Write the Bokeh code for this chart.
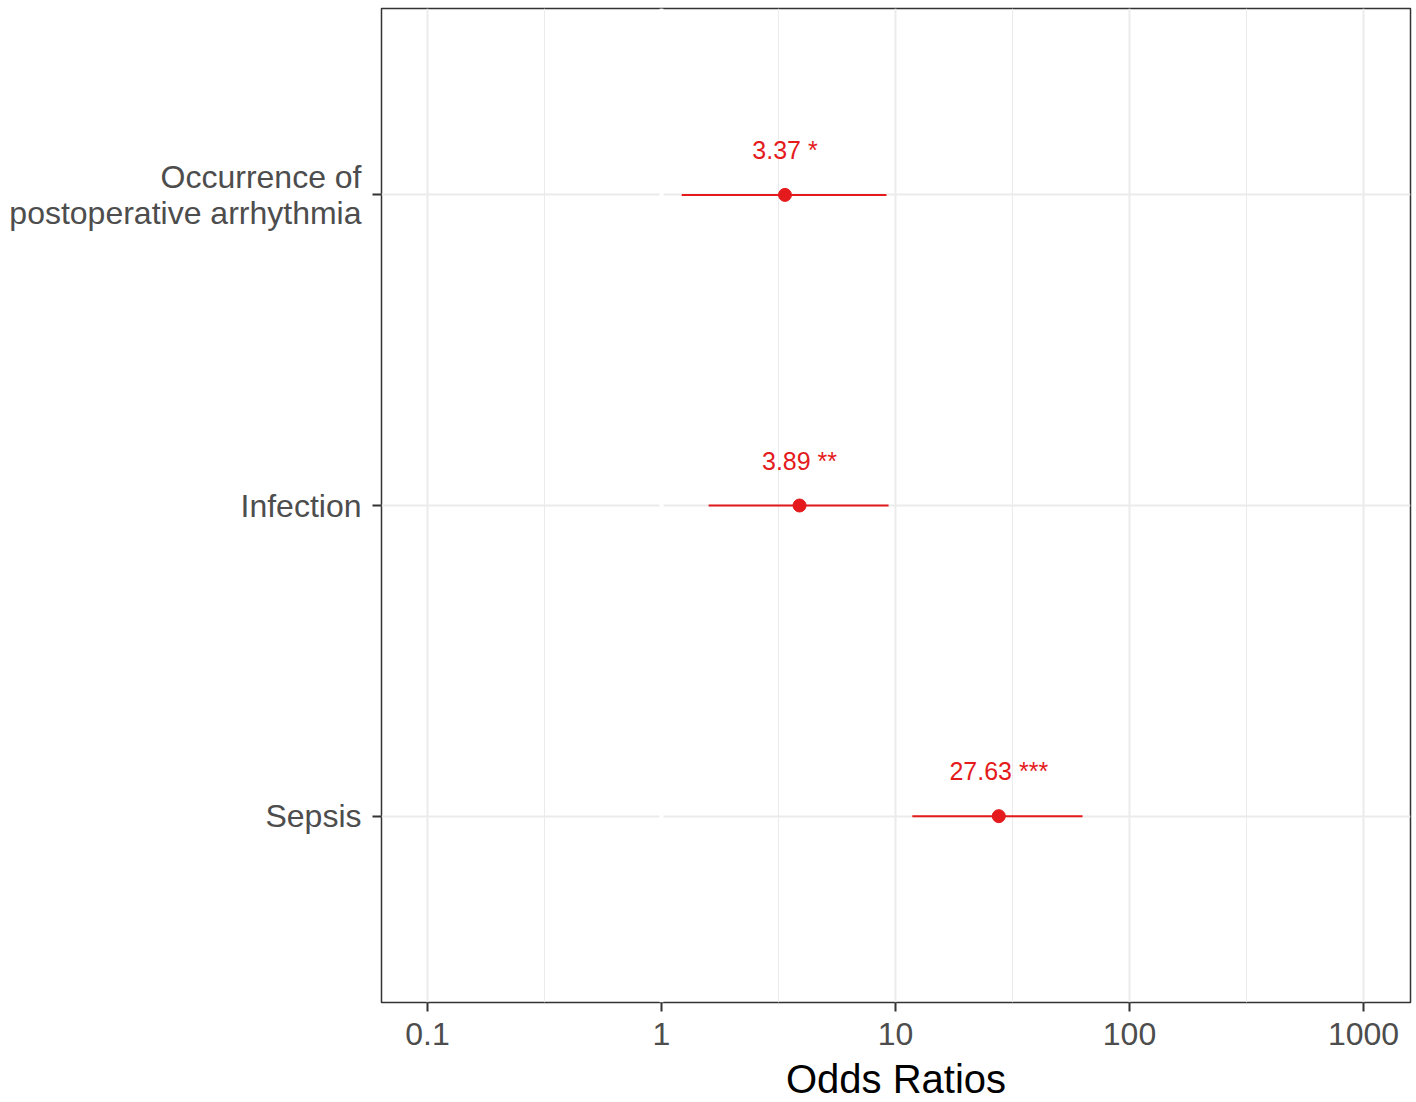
from bokeh.plotting import figure
from bokeh.models import Range1d, FactorRange, FixedTicker, Span, ColumnDataSource
from bokeh.embed import file_html
from bokeh.resources import INLINE
from bokeh.core.properties import value

outcomes = ["Occurrence of\npostoperative arrhythmia", "Infection", "Sepsis"]
odds = [3.37, 3.89, 27.63]
ci_low = [1.22, 1.59, 11.8]
ci_high = [9.15, 9.34, 63.0]
stars = ["*", "**", "***"]
x_ticks = [0.1, 1, 10, 100, 1000]
x_minor = [0.316, 3.16, 31.6, 316]
x_labels = ["0.1", "1", "10", "100", "1000"]

RED = "#E41A1C"
FONT = "Liberation Sans"

labels = [f"{o:.2f} {s}" for o, s in zip(odds, stars)]
src = ColumnDataSource(dict(y=outcomes, odds=odds, lo=ci_low, hi=ci_high, lab=labels))

p = figure(
    x_axis_type="log",
    x_range=Range1d(10 ** -1.1966, 10 ** 3.2009),
    y_range=FactorRange(factors=list(reversed(outcomes)), range_padding=0.1, range_padding_units="absolute"),
    frame_width=1029, frame_height=994,
    min_border_left=381, min_border_right=2, min_border_top=8, min_border_bottom=0,
    output_backend="svg", toolbar_location=None,
)
p.background_fill_color = "white"
p.border_fill_color = "white"
p.outline_line_color = "#333333"
p.outline_line_width = 1.5

# grids
p.xgrid.ticker = FixedTicker(ticks=x_ticks, minor_ticks=x_minor)
p.xgrid.grid_line_color = "#EBEBEB"
p.xgrid.grid_line_width = 2
p.xgrid.minor_grid_line_color = "#EBEBEB"
p.xgrid.minor_grid_line_width = 1
p.ygrid.grid_line_color = "#EBEBEB"
p.ygrid.grid_line_width = 2

vline = Span(location=1, dimension="height", line_color="white", line_width=4, level="underlay")
p.add_layout(vline)

# axes
xa = p.xaxis[0]
xa.ticker = FixedTicker(ticks=x_ticks)
xa.major_label_overrides = {t: l for t, l in zip(x_ticks, x_labels)}
xa.axis_label = "Odds Ratios"
xa.axis_label_text_font = FONT
xa.axis_label_text_font_size = "40px"
xa.axis_label_text_font_style = "normal"
xa.axis_label_text_color = "black"
xa.axis_label_standoff = 9
xa.major_label_text_font = FONT
xa.major_label_text_font_size = "32px"
xa.major_label_text_color = "#4D4D4D"
xa.major_label_standoff = 11
xa.minor_tick_line_color = None

ya = p.yaxis[0]
ya.major_label_text_font = FONT
ya.major_label_text_font_size = "32px"
ya.major_label_text_color = "#4D4D4D"
ya.major_label_text_line_height = 1.0
ya.major_label_standoff = 11

for ax in (xa, ya):
    ax.axis_line_color = None
    ax.major_tick_line_color = "#333333"
    ax.major_tick_line_width = 2
    ax.major_tick_out = 9
    ax.major_tick_in = 0

# data
p.segment(x0="lo", x1="hi", y0="y", y1="y", source=src, line_color=RED, line_width=2)
p.scatter(x="odds", y="y", source=src, size=13, fill_color=RED, line_color=RED)
p.text(x="odds", y="y", text="lab", source=src, y_offset=-45,
       text_align="center", text_baseline="middle",
       text_font=value(FONT), text_font_size="25px", text_color=RED)

open("out.html", "w").write(file_html(p, INLINE))
